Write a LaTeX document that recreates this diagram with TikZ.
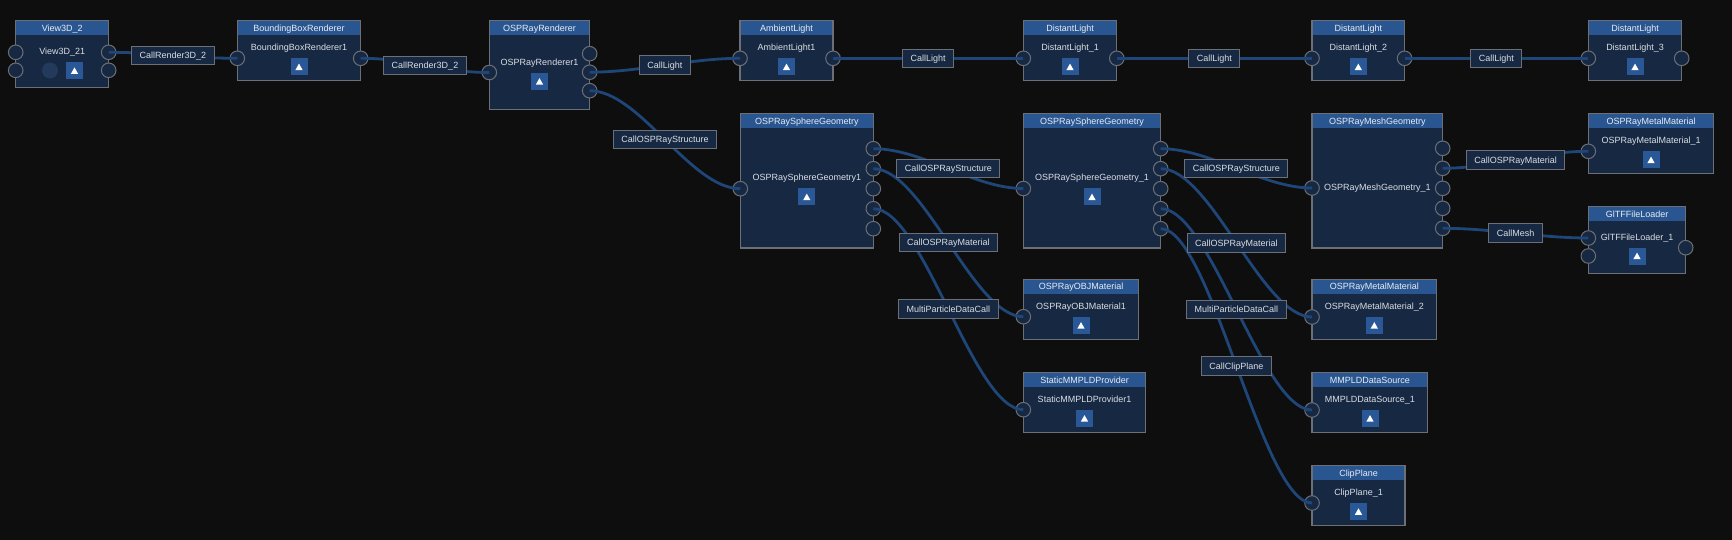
\documentclass[tikz,border=0pt]{standalone}
\usepackage{fontspec}
\setmainfont{Liberation Sans}
\definecolor{bgc}{RGB}{14,14,14}
\definecolor{bodyc}{RGB}{23,40,66}
\definecolor{hdrc}{RGB}{41,86,144}
\definecolor{bordc}{RGB}{108,112,118}
\definecolor{connc}{RGB}{30,70,120}
\definecolor{txtc}{RGB}{218,222,228}
\definecolor{titlec}{RGB}{232,236,242}
\definecolor{btnc}{RGB}{42,88,150}
\definecolor{dotc}{RGB}{36,58,92}
\tikzset{
  modbody/.style={draw=bordc, fill=bodyc, line width=1.1pt, inner sep=0pt, outer sep=0pt, anchor=north west},
  hdrtxt/.style={text=titlec, font=\fontsize{9}{10}\selectfont, inner sep=0pt, text height=6.5pt, text depth=0pt},
  nametxt/.style={text=txtc, font=\fontsize{9}{10}\selectfont, inner sep=0pt, text height=6.5pt, text depth=0pt},
  port/.style={circle, draw=bordc, fill=bodyc, line width=1pt, minimum size=14.6pt, inner sep=0pt},
  btn/.style={fill=btnc, minimum size=17pt, inner sep=0pt,
    path picture={\fill[white] ([xshift=-3.7pt,yshift=-3.2pt]path picture bounding box.center) -- ++(7.4pt,0pt) -- ([yshift=3.4pt]path picture bounding box.center) -- cycle;}},
  dotbtn/.style={circle, fill=dotc, minimum size=16pt, inner sep=0pt},
  conn/.style={draw=connc, line width=2.8pt},
  lbl/.style={draw=bordc, fill=bodyc, line width=1pt, text=txtc, font=\fontsize{9}{10}\selectfont, inner xsep=8pt, inner ysep=0pt, minimum height=18.5pt, text height=6.5pt, text depth=0pt}
}
% #1 name, #2 x1, #3 y1, #4 x2, #5 y2, #6 title, #7 instance, #8 instance y
\newcommand\mmod[8]{%
  \node[modbody, minimum width={#4pt-#2pt}, minimum height={#5pt-#3pt}] (#1) at (#2,#3) {};
  \fill[hdrc] (#2,#3) rectangle (#4,#3+14.5);
  \draw[bordc, line width=1.1pt] (#2,#3) rectangle (#4,#5);
  \node[hdrtxt] (#1-t) at ({(#2+#4)/2},#3+7.4) {#6};
  \node[nametxt] (#1-n) at ({(#2+#4)/2},#8) {#7};
}
\newcommand\wire[3]{%
  \draw[conn] (#1.center) .. controls +(50,0) and +(-50,0) .. (#2.center) coordinate[pos=0.5] (#3);
}
\begin{document}
\begin{tikzpicture}[x=1pt,y=-1pt]
\fill[bgc] (0,0) rectangle (1732,540);
\useasboundingbox (0,0) rectangle (1732,540);

% ---------- modules ----------
\mmod{v3}{15.7}{20.7}{108.7}{87.3}{View3D\_2}{View3D\_21}{51}
\mmod{bb}{237.3}{20.7}{360.7}{80.7}{BoundingBoxRenderer}{BoundingBoxRenderer1}{47.7}
\mmod{osp}{489.3}{20.7}{589.7}{109.7}{OSPRayRenderer}{OSPRayRenderer1}{62.7}
\mmod{amb}{740}{20.7}{833}{80.7}{AmbientLight}{AmbientLight1}{47.7}
\mmod{dla}{1023.3}{20.7}{1116.8}{80.7}{DistantLight}{DistantLight\_1}{47.7}
\mmod{dlb}{1312}{20.7}{1404.6}{80.7}{DistantLight}{DistantLight\_2}{47.7}
\mmod{dlc}{1588.3}{20.7}{1681.7}{80.7}{DistantLight}{DistantLight\_3}{47.7}
\mmod{sga}{740.3}{113.7}{873.3}{248}{OSPRaySphereGeometry}{OSPRaySphereGeometry1}{177.7}
\mmod{sgb}{1023.3}{113.7}{1160.7}{248}{OSPRaySphereGeometry}{OSPRaySphereGeometry\_1}{177.7}
\mmod{mesh}{1312}{113.7}{1442.7}{248}{OSPRayMeshGeometry}{OSPRayMeshGeometry\_1}{187}
\mmod{mma}{1588.3}{113.7}{1713.7}{173.3}{OSPRayMetalMaterial}{OSPRayMetalMaterial\_1}{140.7}
\mmod{gltf}{1588.3}{206.7}{1685.7}{273.3}{GlTFFileLoader}{GlTFFileLoader\_1}{237.3}
\mmod{obj}{1023.3}{279.3}{1138.7}{339.7}{OSPRayOBJMaterial}{OSPRayOBJMaterial1}{306.7}
\mmod{mmb}{1312}{279.3}{1436.7}{339.7}{OSPRayMetalMaterial}{OSPRayMetalMaterial\_2}{306.7}
\mmod{smp}{1023.3}{372.7}{1145.7}{432.7}{StaticMMPLDProvider}{StaticMMPLDProvider1}{399.7}
\mmod{mds}{1312}{372.7}{1427.7}{432.7}{MMPLDDataSource}{MMPLDDataSource\_1}{399.7}
\mmod{clip}{1312}{465.7}{1405}{525.7}{ClipPlane}{ClipPlane\_1}{492.3}

% ---------- buttons ----------
\node[dotbtn] (v3-d) at (50,70.5) {};
\node[btn] (v3-b) at (74.5,70.8) {};
\node[btn] (bb-b) at (299,67) {};
\node[btn] (osp-b) at (539.5,81.5) {};
\node[btn] (amb-b) at (786.5,67) {};
\node[btn] (dla-b) at (1070,67) {};
\node[btn] (dlb-b) at (1358.3,67) {};
\node[btn] (dlc-b) at (1635,67) {};
\node[btn] (sga-b) at (806.8,197) {};
\node[btn] (sgb-b) at (1092,197) {};
\node[btn] (mma-b) at (1651,160) {};
\node[btn] (gltf-b) at (1637,256) {};
\node[btn] (obj-b) at (1081,325.5) {};
\node[btn] (mmb-b) at (1374.3,325.5) {};
\node[btn] (smp-b) at (1084.5,418.5) {};
\node[btn] (mds-b) at (1370,418.5) {};
\node[btn] (clip-b) at (1358.5,511.7) {};

% ---------- ports ----------
\node[port] (v3-i1) at (15.7,52.3) {};
\node[port] (v3-i2) at (15.7,70.3) {};
\node[port] (v3-o1) at (108.7,52.3) {};
\node[port] (v3-o2) at (108.7,70.3) {};
\node[port] (bb-i) at (237.3,58.3) {};
\node[port] (bb-o) at (360.7,58.3) {};
\node[port] (osp-i) at (489.3,72.5) {};
\node[port] (osp-o1) at (589.7,53.7) {};
\node[port] (osp-o2) at (589.7,72.2) {};
\node[port] (osp-o3) at (589.7,90.7) {};
\node[port] (amb-i) at (740,58.3) {};
\node[port] (amb-o) at (833,58.3) {};
\node[port] (dla-i) at (1023.3,58.3) {};
\node[port] (dla-o) at (1116.8,58.3) {};
\node[port] (dlb-i) at (1312,58.3) {};
\node[port] (dlb-o) at (1404.6,58.3) {};
\node[port] (dlc-i) at (1588.3,58.3) {};
\node[port] (dlc-o) at (1681.7,58.3) {};
\node[port] (sga-i) at (740.3,188.7) {};
\foreach \k in {1,...,5} {
  \node[port] (sga-o\k) at (873.3,128.7+20*\k) {};
  \node[port] (sgb-o\k) at (1160.7,128.7+20*\k) {};
  \node[port] (mesh-o\k) at (1442.7,128.3+20*\k) {};
}
\node[port] (sgb-i) at (1023.3,188.5) {};
\node[port] (mesh-i) at (1312,188) {};
\node[port] (mma-i) at (1588.3,151.3) {};
\node[port] (gltf-i1) at (1588.3,238) {};
\node[port] (gltf-i2) at (1588.3,256) {};
\node[port] (gltf-o) at (1685.7,247.7) {};
\node[port] (obj-i) at (1023.3,316.7) {};
\node[port] (mmb-i) at (1312,317) {};
\node[port] (smp-i) at (1023.3,409.7) {};
\node[port] (mds-i) at (1312,410) {};
\node[port] (clip-i) at (1312,503) {};

% ---------- connectors ----------
\wire{v3-o1}{bb-i}{m1}
\wire{bb-o}{osp-i}{m2}
\wire{osp-o2}{amb-i}{m3}
\wire{amb-o}{dla-i}{m4}
\wire{dla-o}{dlb-i}{m5}
\wire{dlb-o}{dlc-i}{m6}
\wire{osp-o3}{sga-i}{m7}
\wire{sga-o1}{sgb-i}{m8}
\wire{sga-o2}{obj-i}{m9}
\wire{sga-o4}{smp-i}{m10}
\wire{sgb-o1}{mesh-i}{m11}
\wire{sgb-o2}{mmb-i}{m12}
\wire{sgb-o5}{clip-i}{m14}
\wire{sgb-o4}{mds-i}{m13}
\wire{mesh-o2}{mma-i}{m15}
\wire{mesh-o5}{gltf-i1}{m16}

% ---------- call labels ----------
\node[lbl] (l1) at (m1) {CallRender3D\_2};
\node[lbl] (l2) at (m2) {CallRender3D\_2};
\node[lbl] (l3) at (m3) {CallLight};
\node[lbl] (l4) at (m4) {CallLight};
\node[lbl] (l5) at (m5) {CallLight};
\node[lbl] (l6) at (m6) {CallLight};
\node[lbl] (l7) at (m7) {CallOSPRayStructure};
\node[lbl] (l8) at (m8) {CallOSPRayStructure};
\node[lbl] (l9) at (m9) {CallOSPRayMaterial};
\node[lbl] (l10) at (m10) {MultiParticleDataCall};
\node[lbl] (l11) at (m11) {CallOSPRayStructure};
\node[lbl] (l12) at (m12) {CallOSPRayMaterial};
\node[lbl] (l13) at (m13) {MultiParticleDataCall};
\node[lbl] (l14) at (m14) {CallClipPlane};
\node[lbl] (l15) at (m15) {CallOSPRayMaterial};
\node[lbl] (l16) at (m16) {CallMesh};
\end{tikzpicture}
\end{document}
